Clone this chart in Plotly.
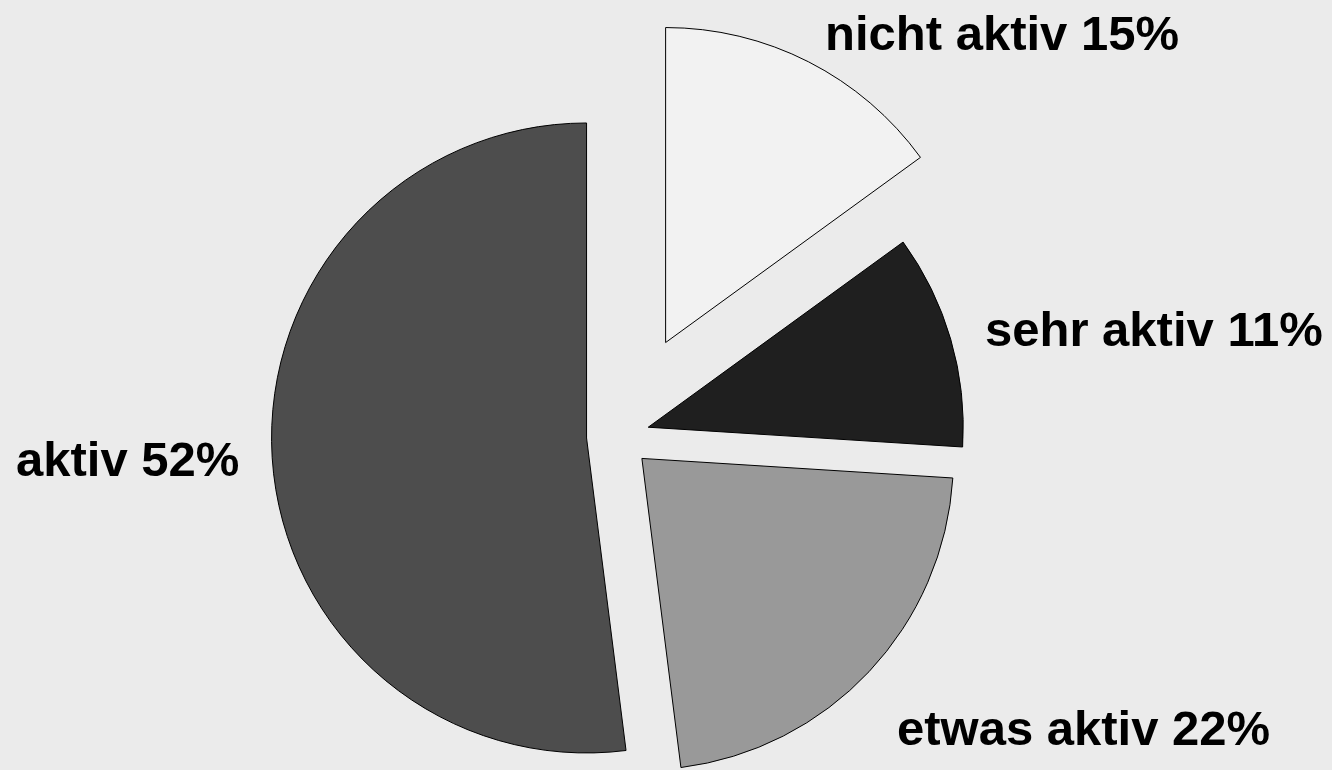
import math
import plotly.graph_objects as go

# ---- data ----
labels = ["nicht aktiv", "sehr aktiv", "etwas aktiv", "aktiv"]
values = [15, 11, 22, 52]

# ---- style ----
colors = ["#f2f2f2", "#1f1f1f", "#999999", "#4d4d4d"]
pulls = [0.333, 0.1, 0.104, 0.1]          # explode fraction of radius
label_pos = [(823, 49.5), (983, 346), (895, 745), (14, 475.5)]  # left x, baseline y (px)

W, H = 1332, 770
CX, CY = 618, 436   # pie centre in px (from top-left)
R = 315             # pie radius in px
FONT = 49

fig = go.Figure()
total = sum(values)
cum = 0
for i, v in enumerate(values):
    a0 = cum / total * 360
    cum += v
    a1 = cum / total * 360
    mid = math.radians((a0 + a1) / 2)
    d = pulls[i] * R
    px = CX + d * math.sin(mid)
    py = CY - d * math.cos(mid)
    r = min(R, px, W - px, py, H - py)
    xc, yc = px / W, 1 - py / H
    dx, dy = r / W, r / H
    cols = [colors[j] if j == i else "rgba(0,0,0,0)" for j in range(len(values))]
    widths = [1 if j == i else 0 for j in range(len(values))]
    fig.add_trace(go.Pie(
        labels=labels, values=values, sort=False, direction="clockwise", rotation=0,
        marker=dict(colors=cols, line=dict(color="#000000", width=widths)),
        textinfo="none", hoverinfo="label+percent", showlegend=False,
        domain=dict(x=[max(0, xc - dx), min(1, xc + dx)],
                    y=[max(0, yc - dy), min(1, yc + dy)]),
    ))

tot = sum(values)
for i, (lab, v) in enumerate(zip(labels, values)):
    lx, by = label_pos[i]
    cy_text = by - 0.3465 * FONT
    fig.add_annotation(
        x=lx / W, y=1 - cy_text / H, xref="paper", yref="paper",
        xanchor="left", yanchor="middle", showarrow=False,
        text=f"{lab} {round(v / tot * 100)}%",
        font=dict(family="Liberation Sans, Arial, sans-serif", size=FONT,
                  color="#000000", weight="bold"),
    )

fig.update_layout(
    width=W, height=H,
    margin=dict(l=0, r=0, t=0, b=0),
    paper_bgcolor="#ebebeb", plot_bgcolor="#ebebeb",
    showlegend=False,
)

fig.write_html("out.html")
